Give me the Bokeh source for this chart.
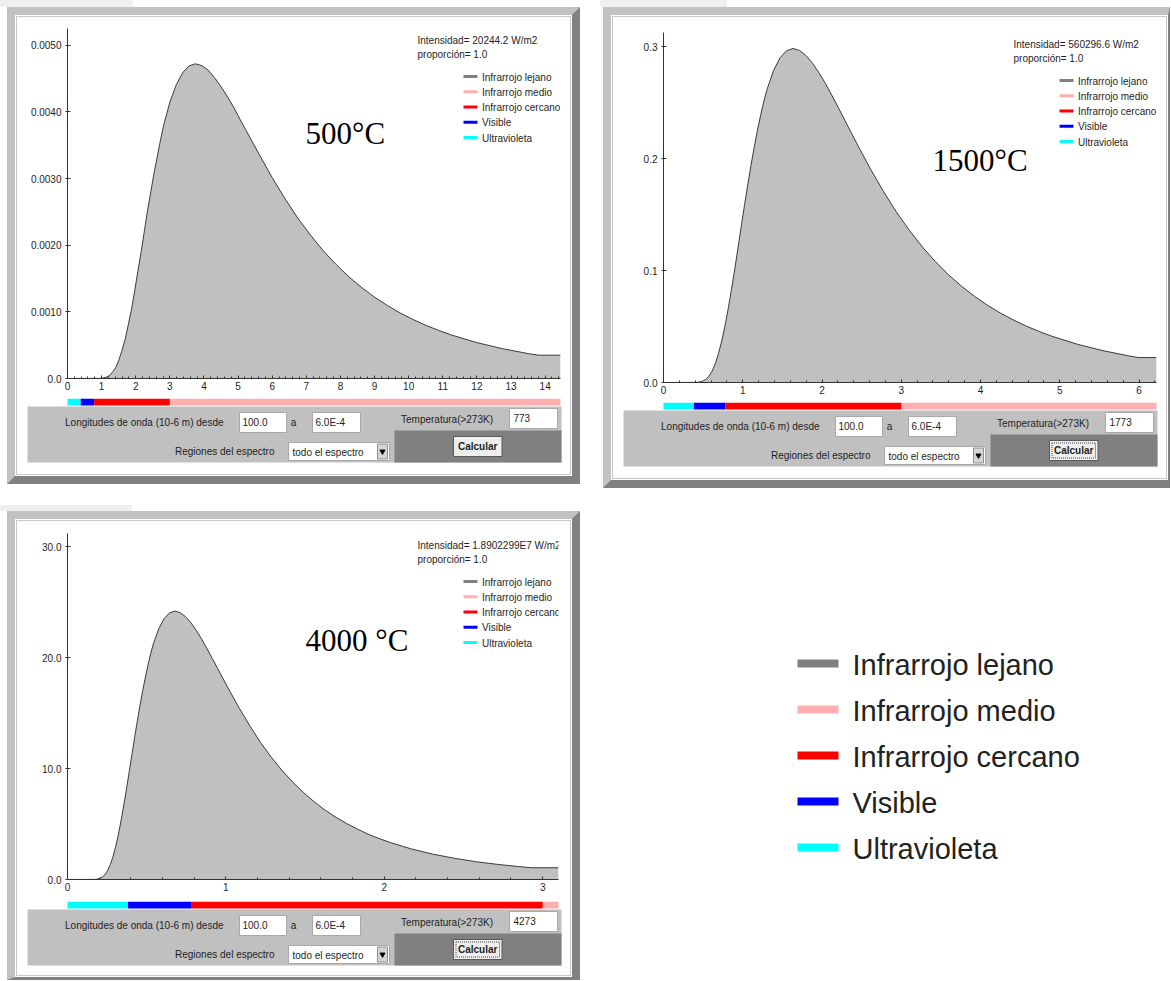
import numpy as np
from bokeh.plotting import figure
from bokeh.models import Range1d, FixedTicker, Spacer
from bokeh.layouts import column, row
from bokeh.embed import file_html
from bokeh.resources import INLINE
from bokeh.core.properties import value

SANS = "Liberation Sans"
SERIF = "Liberation Serif"
TXT = "#1e1e1e"

# ---------------- data ----------------
REGIONS = ["Infrarrojo lejano", "Infrarrojo medio", "Infrarrojo cercano", "Visible", "Ultravioleta"]
REGION_COLORS = ["#808080", "#ffafaf", "#ff0000", "#0000ff", "#00ffff"]
REGION_START = [30.0, 3.0, 0.78, 0.38, 0.0]
REGION_END = [100.0, 30.0, 3.0, 0.78, 0.38]

# 500 °C (773 K)
wl_500 = [0.0, 0.94, 1.03, 1.13, 1.22, 1.31, 1.41, 1.5, 1.59, 1.69, 1.78, 1.88, 1.97, 2.06, 2.16, 2.25,
          2.34, 2.44, 2.53, 2.63, 2.72, 2.81, 2.91, 3.0, 3.19, 3.38, 3.56, 3.75, 3.94, 4.13, 4.31, 4.5,
          4.69, 4.88, 5.06, 5.25, 5.44, 5.63, 6.0, 6.38, 6.75, 7.13, 7.5, 7.88, 8.25, 8.63, 9.0, 9.38,
          9.75, 10.13, 10.5, 10.88, 11.25, 12.0, 12.75, 13.5, 13.8, 14.45]
e_500 = [0.0, 0.0000016, 0.0000062, 0.000018, 0.000043, 0.000088, 0.000161, 0.000267, 0.000409, 0.000588,
         0.000802, 0.001046, 0.001316, 0.001602, 0.0019, 0.002201, 0.002499, 0.002789, 0.003065, 0.003323,
         0.003562, 0.003779, 0.003972, 0.004144, 0.00441, 0.00459, 0.004689, 0.00472, 0.004693, 0.004621,
         0.004513, 0.004378, 0.004225, 0.004059, 0.003884, 0.003707, 0.003528, 0.003352, 0.003012,
         0.002695, 0.002406, 0.002146, 0.001913, 0.001707, 0.001524, 0.001362, 0.00122, 0.001094,
         0.000983, 0.000885, 0.000798, 0.000721, 0.000653, 0.000538, 0.000447, 0.000374, 0.00035, 0.00035]
xticks_500 = [0, 1, 2, 3, 4, 5, 6, 7, 8, 9, 10, 11, 12, 13, 14]
yticks_500 = [0, 0.001, 0.002, 0.003, 0.004, 0.005]
ylabels_500 = ["0.0", "0.0010", "0.0020", "0.0030", "0.0040", "0.0050"]

# 1500 °C (1773 K)
wl_1500 = [0.0, 0.409, 0.449, 0.490, 0.531, 0.572, 0.613, 0.654, 0.694, 0.735, 0.776, 0.817, 0.858, 0.899,
           0.940, 0.980, 1.021, 1.062, 1.103, 1.144, 1.185, 1.226, 1.266, 1.307, 1.389, 1.471, 1.552, 1.634,
           1.716, 1.797, 1.879, 1.961, 2.043, 2.124, 2.206, 2.288, 2.369, 2.451, 2.614, 2.778, 2.941, 3.105,
           3.268, 3.431, 3.595, 3.758, 3.922, 4.085, 4.248, 4.412, 4.575, 4.739, 4.902, 5.229, 5.556, 5.882,
           5.99, 6.22]
e_1500 = [0.0, 0.0001, 0.00039, 0.00113, 0.00272, 0.00558, 0.01018, 0.01687, 0.02585, 0.03716, 0.05071,
          0.06618, 0.0832, 0.10134, 0.12016, 0.13922, 0.15805, 0.17635, 0.19381, 0.21017, 0.22527, 0.23901,
          0.25119, 0.26205, 0.27892, 0.29026, 0.29653, 0.2985, 0.29677, 0.29223, 0.2854, 0.27689, 0.26718,
          0.25668, 0.24564, 0.23441, 0.22314, 0.21196, 0.19047, 0.17044, 0.15215, 0.13569, 0.12098,
          0.10793, 0.09636, 0.08616, 0.07713, 0.06919, 0.06218, 0.05596, 0.05048, 0.04561, 0.04128,
          0.03404, 0.02827, 0.02364, 0.0223, 0.0223]
xticks_1500 = [0, 1, 2, 3, 4, 5, 6]
yticks_1500 = [0, 0.1, 0.2, 0.3]
ylabels_1500 = ["0.0", "0.1", "0.2", "0.3"]

# 4000 °C (4273 K)
wl_4000 = [0.0, 0.170, 0.186, 0.203, 0.220, 0.237, 0.254, 0.271, 0.288, 0.305, 0.322, 0.339, 0.356, 0.373,
           0.390, 0.407, 0.424, 0.441, 0.458, 0.475, 0.492, 0.509, 0.525, 0.542, 0.576, 0.610, 0.644, 0.678,
           0.712, 0.746, 0.780, 0.814, 0.848, 0.881, 0.915, 0.949, 0.983, 1.017, 1.085, 1.153, 1.220, 1.288,
           1.356, 1.424, 1.492, 1.559, 1.627, 1.695, 1.763, 1.831, 1.898, 1.966, 2.034, 2.170, 2.305, 2.441,
           2.576, 2.712, 2.848, 2.93, 3.10]
e_4000 = [0.0, 0.008, 0.032, 0.092, 0.22, 0.45, 0.83, 1.37, 2.1, 3.01, 4.11, 5.37, 6.75, 8.22, 9.74, 11.29,
          12.81, 14.3, 15.71, 17.04, 18.26, 19.38, 20.36, 21.25, 22.61, 23.53, 24.04, 24.2, 24.06, 23.69,
          23.14, 22.45, 21.66, 20.81, 19.91, 19.0, 18.09, 17.18, 15.44, 13.82, 12.33, 11.0, 9.81, 8.75,
          7.81, 6.99, 6.25, 5.61, 5.04, 4.54, 4.09, 3.7, 3.35, 2.76, 2.29, 1.92, 1.61, 1.37, 1.165, 1.06,
          1.06]
xticks_4000 = [0, 1, 2, 3]
yticks_4000 = [0, 10, 20, 30]
ylabels_4000 = ["0.0", "10.0", "20.0", "30.0"]

INTENSITY = ["Intensidad= 20244.2 W/m2", "Intensidad= 560296.6 W/m2", "Intensidad= 1.8902299E7 W/m2"]
PROPORTION = ["proporción= 1.0", "proporción= 1.0", "proporción= 1.0"]
TEMP_LABEL = ["500°C", "1500°C", "4000 °C"]
TEMP_K = ["773", "1773", "4273"]

IW = 553  # inner width of each applet


def clean(f):
    f.outline_line_color = None
    f.grid.visible = False
    try:
        f.frame_align = False
    except Exception:
        pass
    return f


def build_chart(cfg):
    fw = cfg["frame_w"]
    fh = cfg["chart_h"] - cfg["top"] - cfg["bottom"]
    p = figure(width=IW, height=cfg["chart_h"], title=None,
               x_range=Range1d(0, cfg["xmax"]), y_range=Range1d(0, cfg["ymax"]),
               min_border_left=50, min_border_right=IW - 50 - fw,
               min_border_top=cfg["top"], min_border_bottom=cfg["bottom"],
               output_backend="svg", toolbar_location=None,
               background_fill_color="white", border_fill_color="white")
    clean(p)
    p.extra_x_ranges = {"px": Range1d(0, fw)}
    p.extra_y_ranges = {"px": Range1d(fh, 0)}

    p.varea(x=cfg["wl"], y1=0, y2=cfg["e"], fill_color="#c0c0c0")
    p.line(cfg["wl"], cfg["e"], line_color="#3a3a3a", line_width=1)

    xa = p.xaxis[0]
    xa.ticker = FixedTicker(ticks=cfg["xticks"],
                            minor_ticks=np.round(np.arange(0, cfg["xmax"], 0.2), 2).tolist())
    xa.major_tick_in = 3
    xa.major_tick_out = 0
    xa.minor_tick_in = 2
    xa.minor_tick_out = 0
    xa.major_label_standoff = 3
    ya = p.yaxis[0]
    ya.ticker = FixedTicker(ticks=cfg["yticks"], minor_ticks=[])
    ya.major_label_overrides = dict(zip(cfg["yticks"], cfg["ylabels"]))
    ya.major_tick_in = 3
    ya.major_tick_out = 2
    ya.major_label_standoff = 4
    for ax in (xa, ya):
        ax.axis_line_color = "#333333"
        ax.major_tick_line_color = "#333333"
        ax.minor_tick_line_color = "#333333"
        ax.major_label_text_font = SANS
        ax.major_label_text_font_size = "10px"
        ax.major_label_text_color = TXT

    i = cfg["idx"]
    txt = dict(text_font=value(SANS), text_font_size="10px", text_color=TXT,
               text_baseline="middle", x_range_name="px", y_range_name="px")
    p.text(x=[350, 350], y=[12, 26], text=[INTENSITY[i], PROPORTION[i]], **txt)
    n = len(REGIONS)
    ly = [48 + 15.25 * k for k in range(n)]
    p.segment(x0=396, x1=410, y0=ly, y1=ly, line_color=REGION_COLORS, line_width=3,
              x_range_name="px", y_range_name="px")
    p.text(x=414.5, y=[v + 0.5 for v in ly], text=REGIONS, **txt)
    p.text(x=[cfg["tl"][0]], y=[cfg["tl"][1]], text=[TEMP_LABEL[i]], text_font=value(SERIF),
           text_font_size="31px", text_color="#000000", text_baseline="middle",
           x_range_name="px", y_range_name="px")
    return p


def build_controls(cfg):
    BAR = 7
    h = cfg["ctrl_h"] + BAR
    fw = cfg["frame_w"]
    xmax = cfg["xmax"]
    c = figure(width=IW, height=h, title=None, x_range=Range1d(0, IW), y_range=Range1d(h, 0),
               min_border=0, x_axis_location=None, y_axis_location=None,
               output_backend="svg", toolbar_location=None,
               background_fill_color="white", border_fill_color="white")
    clean(c)
    # wavelength scale aligned with the chart axis above (same units per pixel)
    upp = xmax / fw
    c.extra_x_ranges = {"wl": Range1d(-50 * upp, (IW - 50) * upp)}
    c.quad(left=[min(s, xmax) for s in REGION_START], right=[min(e, xmax) for e in REGION_END],
           top=0, bottom=BAR, fill_color=REGION_COLORS, line_color=None, x_range_name="wl")

    o = BAR
    txt = dict(text_font=value(SANS), text_font_size="10px", text_color=TXT, text_baseline="middle")
    c.quad(left=[10], right=[544], top=[o + 1], bottom=[o + 57], fill_color="#c0c0c0", line_color=None)
    c.quad(left=[377], right=[544], top=[o + 25], bottom=[o + 57], fill_color="#808080", line_color=None)
    c.quad(left=[222, 295, 492], right=[269, 343, 540], top=[o + 7, o + 7, o + 3],
           bottom=[o + 27, o + 27, o + 23], fill_color="white", line_color="#a8a8a8")
    c.text(x=[206], y=[o + 17], text=["Longitudes de onda (10-6 m) desde"], text_align="right", **txt)
    c.text(x=[225, 298], y=[o + 16.5, o + 16.5], text=["100.0", "6.0E-4"], **txt)
    c.text(x=[276], y=[o + 17], text=["a"], text_align="center", **txt)
    c.text(x=[383.5], y=[o + 14], text=["Temperatura(>273K)"], **txt)
    c.text(x=[496], y=[o + 12.5], text=[TEMP_K[cfg["idx"]]], **txt)
    c.text(x=[257], y=[o + 45.5], text=["Regiones del espectro"], text_align="right", **txt)
    c.quad(left=[271], right=[372], top=[o + 37], bottom=[o + 55], fill_color="white", line_color="#a8a8a8")
    c.text(x=[275], y=[o + 46.5], text=["todo el espectro"], **txt)
    c.quad(left=[360], right=[370], top=[o + 38.5], bottom=[o + 53.5], fill_color="#d4d4d4",
           line_color="#909090")
    c.scatter(x=[365], y=[o + 46], marker="inverted_triangle", size=5, color="#000000")
    c.quad(left=[436], right=[484.5], top=[o + 31], bottom=[o + 51], fill_color="#eeeeee",
           line_color="#5a5a5a")
    if cfg["focus"]:
        c.quad(left=[438.5], right=[482], top=[o + 33.5], bottom=[o + 48.5], fill_color=None,
               line_color="#444444", line_dash="1 1")
    c.text(x=[460.2], y=[o + 41], text=["Calcular"], text_align="center", text_font_style="bold", **txt)
    return c


def build_panel(cfg):
    ch = build_chart(cfg)
    ctrl = build_controls(cfg)
    inner = column(ch, ctrl, styles={"border": "1px solid #c8c8c8", "box-sizing": "content-box"})
    return column(inner, styles={"border-style": "solid", "border-width": cfg["bw"],
                                 "border-color": "#c2c2c2 #808080 #808080 #c2c2c2",
                                 "padding": "1px", "background-color": "#ffffff",
                                 "box-sizing": "content-box"})


cfgA = dict(idx=0, wl=wl_500, e=e_500, xmax=14.45, ymax=0.00525, xticks=xticks_500,
            yticks=yticks_500, ylabels=ylabels_500, chart_h=381, top=11, bottom=20, frame_w=493,
            ctrl_h=69, tl=(238, 105), focus=False, bw="8px 8px 8px 8px")
cfgB = dict(idx=1, wl=wl_1500, e=e_1500, xmax=6.22, ymax=0.3128, xticks=xticks_1500,
            yticks=yticks_1500, ylabels=ylabels_1500, chart_h=385, top=15, bottom=20, frame_w=493,
            ctrl_h=69, tl=(269, 128), focus=True, bw="8px 2px 8px 8px")
cfgC = dict(idx=2, wl=wl_4000, e=e_4000, xmax=3.10, ymax=31.2, xticks=xticks_4000,
            yticks=yticks_4000, ylabels=ylabels_4000, chart_h=380, top=12, bottom=22, frame_w=491,
            ctrl_h=67, tl=(238, 107), focus=True, bw="8px 8px 3px 8px")

panelA = build_panel(cfgA)
panelB = build_panel(cfgB)
panelC = build_panel(cfgC)

# large legend
lg = figure(width=465, height=270, title=None, x_range=Range1d(0, 465), y_range=Range1d(270, 0),
            min_border=0, x_axis_location=None, y_axis_location=None,
            output_backend="svg", toolbar_location=None,
            background_fill_color="white", border_fill_color="white")
clean(lg)
ys = [48 + 46 * k for k in range(len(REGIONS))]
lg.segment(x0=157, x1=198, y0=ys, y1=ys, line_color=REGION_COLORS, line_width=8)
lg.text(x=212, y=[v + 1 for v in ys], text=REGIONS, text_font=value(SANS), text_font_size="29px",
        text_color="#222222", text_baseline="middle")

TAB = {"background-color": "#efefef"}
colA = column(
    Spacer(width=133, height=7, styles=TAB),
    row(Spacer(width=7, height=10), panelA),
    Spacer(width=10, height=21),
    Spacer(width=132, height=6, styles=TAB),
    row(Spacer(width=7, height=10), panelC),
)
colB = column(
    row(Spacer(width=20, height=7), Spacer(width=127, height=7, styles=TAB)),
    row(Spacer(width=23, height=10), panelB),
    Spacer(width=10, height=127),
    row(Spacer(width=60, height=10), lg),
)
root = row(colA, colB)

open("out.html", "w").write(file_html(root, INLINE))
